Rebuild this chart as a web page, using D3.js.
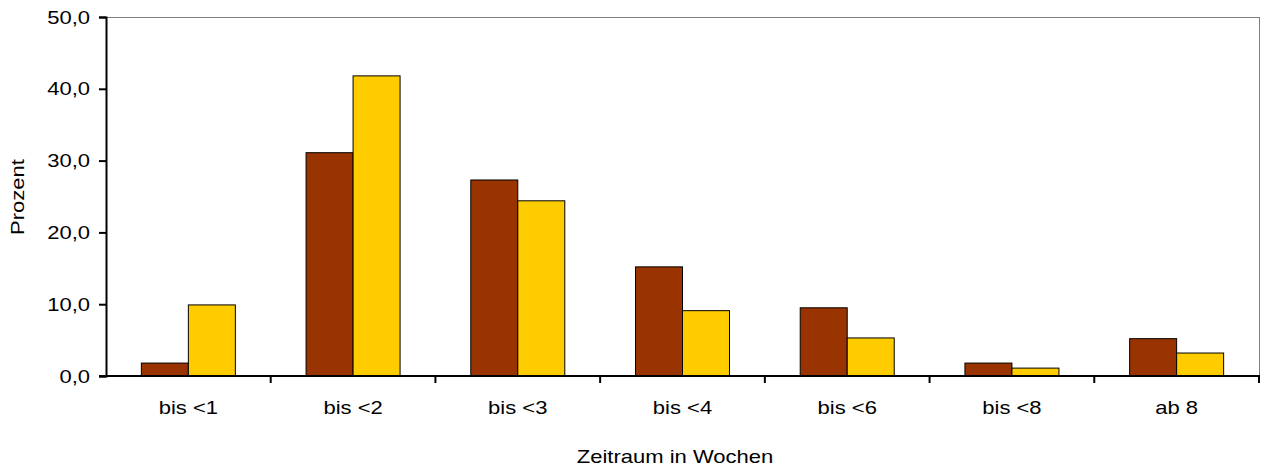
<!DOCTYPE html>
<html>
<head>
<meta charset="utf-8">
<script src="https://cdn.jsdelivr.net/npm/d3@7"></script>
<style>
body { margin: 0; background: #fff; }
text { font-family: Arial, "Liberation Sans", sans-serif; fill: #000; }
</style>
</head>
<body>
<svg id="chart"></svg>
<script>
var categories = ["bis <1", "bis <2", "bis <3", "bis <4", "bis <6", "bis <8", "ab 8"];
var seriesA = [1.8, 31.1, 27.3, 15.2, 9.5, 1.8, 5.2];
var seriesB = [9.9, 41.8, 24.4, 9.1, 5.3, 1.1, 3.2];
var yTicks = [0, 10, 20, 30, 40, 50];

var width = 1266, height = 468;
var svg = d3.select("#chart").attr("width", width).attr("height", height);

var plotLeft = 106, plotRight = 1259, plotTop = 17, plotBottom = 376;
var fontSize = 18.5, stretch = 1.19;

var x = d3.scaleBand().domain(categories).range([plotLeft, plotRight]);
var y = d3.scaleLinear().domain([0, 50]).range([plotBottom, plotTop]);
var barW = 47;

// the original text is a bit wider than Arial, so stretch it horizontally
function label(parent, px, py, txt, anchor, rot) {
  var t = "translate(" + px + "," + py + ")" + (rot ? " rotate(" + rot + ")" : "") + " scale(" + stretch + ",1)";
  return parent.append("text").attr("transform", t).attr("text-anchor", anchor)
    .attr("font-size", fontSize).text(txt);
}

// frame top/right
svg.append("line").attr("x1", plotLeft).attr("x2", plotRight).attr("y1", plotTop + 0.5).attr("y2", plotTop + 0.5)
  .attr("stroke", "#808080").attr("stroke-width", 1);
svg.append("line").attr("x1", plotRight + 0.5).attr("x2", plotRight + 0.5).attr("y1", plotTop).attr("y2", plotBottom)
  .attr("stroke", "#808080").attr("stroke-width", 1);

var groups = svg.append("g").selectAll("g").data(categories).enter().append("g");

groups.append("rect")
  .attr("x", function(d) { return x(d) + x.bandwidth() / 2 - barW; })
  .attr("y", function(d, i) { return y(seriesA[i]); })
  .attr("width", barW)
  .attr("height", function(d, i) { return plotBottom - y(seriesA[i]); })
  .attr("fill", "#993300").attr("stroke", "#000").attr("stroke-width", 1);

groups.append("rect")
  .attr("x", function(d) { return x(d) + x.bandwidth() / 2; })
  .attr("y", function(d, i) { return y(seriesB[i]); })
  .attr("width", barW)
  .attr("height", function(d, i) { return plotBottom - y(seriesB[i]); })
  .attr("fill", "#FFCC00").attr("stroke", "#000").attr("stroke-width", 1);

// y axis
var yAxis = d3.axisLeft(y).tickValues(yTicks).tickSize(7).tickFormat("");
var gy = svg.append("g").attr("transform", "translate(" + plotLeft + ",0)").call(yAxis);
gy.select(".domain").attr("stroke", "#000").attr("stroke-width", 2);
gy.selectAll(".tick line").attr("stroke", "#000").attr("stroke-width", 2);
yTicks.forEach(function(v) {
  label(svg, 90, y(v) + 6.5, v.toFixed(1).replace(".", ","), "end");
});

// x axis
var gx = svg.append("g").attr("transform", "translate(0," + plotBottom + ")");
gx.append("line").attr("x1", plotLeft - 7).attr("x2", plotRight + 1).attr("y1", 0).attr("y2", 0)
  .attr("stroke", "#000").attr("stroke-width", 2);
var bounds = categories.map(function(c) { return x(c) + x.bandwidth(); });
gx.selectAll(".xt").data(bounds).enter().append("line")
  .attr("x1", function(d) { return d; }).attr("x2", function(d) { return d; })
  .attr("y1", 0).attr("y2", 7).attr("stroke", "#000").attr("stroke-width", 2);
categories.forEach(function(c) {
  label(svg, x(c) + x.bandwidth() / 2, 414, c, "middle");
});

label(svg, 675, 463, "Zeitraum in Wochen", "middle");
label(svg, 24, 197, "Prozent", "middle", -90);
</script>
</body>
</html>
